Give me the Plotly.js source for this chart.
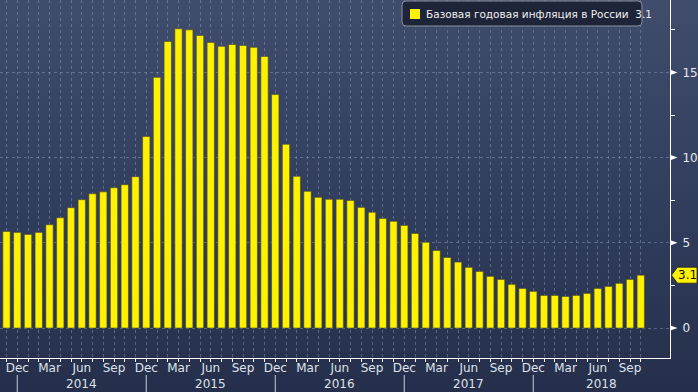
<!DOCTYPE html>
<html>
<head>
<meta charset="utf-8">
<script src="https://cdn.plot.ly/plotly-3.0.1.min.js"></script>
<style>
  html, body { margin: 0; padding: 0; }
  #chart { width: 698px; height: 392px; background: linear-gradient(to bottom, #404c6c 0%, #323e5e 50%, #252f4b 100%); }
</style>
</head>
<body>
<div id="chart"></div>
<script>
// ---- data ----
const months = [
  "2013-11","2013-12",
  "2014-01","2014-02","2014-03","2014-04","2014-05","2014-06","2014-07","2014-08","2014-09","2014-10","2014-11","2014-12",
  "2015-01","2015-02","2015-03","2015-04","2015-05","2015-06","2015-07","2015-08","2015-09","2015-10","2015-11","2015-12",
  "2016-01","2016-02","2016-03","2016-04","2016-05","2016-06","2016-07","2016-08","2016-09","2016-10","2016-11","2016-12",
  "2017-01","2017-02","2017-03","2017-04","2017-05","2017-06","2017-07","2017-08","2017-09","2017-10","2017-11","2017-12",
  "2018-01","2018-02","2018-03","2018-04","2018-05","2018-06","2018-07","2018-08","2018-09","2018-10"
];
const coreInflation = [
  5.67, 5.61,
  5.49, 5.61, 6.06, 6.47, 7.06, 7.53, 7.88, 7.99, 8.23, 8.41, 8.88, 11.24,
  14.71, 16.82, 17.56, 17.50, 17.17, 16.76, 16.53, 16.64, 16.58, 16.47, 15.94, 13.70,
  10.78, 8.90, 8.02, 7.67, 7.55, 7.55, 7.49, 7.08, 6.79, 6.43, 6.26, 6.02,
  5.55, 5.03, 4.55, 4.14, 3.87, 3.56, 3.32, 3.03, 2.85, 2.56, 2.32, 2.15,
  1.91, 1.91, 1.85, 1.91, 2.03, 2.32, 2.44, 2.62, 2.85, 3.10
];
const seriesName = "Базовая годовая инфляция в России";
const lastLabel = "3.1";
const monthNames = {"03": "Mar", "06": "Jun", "09": "Sep", "12": "Dec"};
const yTicks = [0, 5, 10, 15];
const yMinorTicks = [2.5, 7.5, 12.5, 17.5];
const years = ["2014", "2015", "2016", "2017", "2018"];

// ---- build ----
const xIdx = months.map((m, i) => i);
const tickText = months.map(m => monthNames[m.slice(5)] || "");
const xRange = [-0.605, 61.72];
const yRange = [-1.76, 19.25];
const W = 670, H = 358; // plot area in px

const bars = {
  type: "bar",
  x: xIdx,
  y: coreInflation,
  name: seriesName,
  width: 0.68,
  marker: { color: "#fff200", line: { color: "#4a4a22", width: 0.6 } },
  hoverinfo: "y",
  showlegend: false
};

const shapes = [];
const annotations = [];

// year separators and year labels
const decIdx = months.map((m, i) => m.endsWith("-12") ? i : -1).filter(i => i >= 0);
decIdx.forEach(i => {
  shapes.push({ type: "line", xref: "x", yref: "paper", x0: i, x1: i,
    y0: -(375 - H) / H, y1: -(392 - H) / H, line: { color: "#c8ccd6", width: 1 } });
});
years.forEach(y => {
  const start = months.indexOf((+y - 1) + "-12");
  let end = months.indexOf(y + "-12");
  if (end < 0) end = xRange[1];
  annotations.push({ xref: "x", yref: "paper", x: (start + end) / 2, y: -(384 - H) / H,
    text: y, showarrow: false, xanchor: "center", yanchor: "middle",
    font: { family: "DejaVu Sans", size: 12, color: "#dfe2e8" } });
});

// y major tick triangles
const px = v => 1 + v / W;
yTicks.forEach(v => {
  const h = 2.6 * (yRange[1] - yRange[0]) / H;
  shapes.push({ type: "path", xref: "paper", yref: "y",
    path: `M ${px(0.5)},${v + h} L ${px(7.5)},${v} L ${px(0.5)},${v - h} Z`,
    fillcolor: "#ffffff", line: { width: 0 } });
});

// last-value tag
const last = coreInflation[coreInflation.length - 1];
const hh = 8 * (yRange[1] - yRange[0]) / H;
shapes.push({ type: "path", xref: "paper", yref: "y",
  path: `M ${px(1.5)},${last} L ${px(7.5)},${last + hh} L ${px(27)},${last + hh} L ${px(27)},${last - hh} L ${px(7.5)},${last - hh} Z`,
  fillcolor: "#fff200", line: { color: "#222222", width: 0.8 } });
annotations.push({ xref: "paper", yref: "y", x: px(17.5), y: last, text: lastLabel,
  showarrow: false, xanchor: "center", yanchor: "middle",
  font: { family: "DejaVu Sans", size: 12, color: "#111111" } });

// legend box (rounded)
function rr(x0, y0, x1, y1, r) {
  const X = p => p / W, Y = p => 1 - p / H;
  return `M ${X(x0 + r)},${Y(y0)} L ${X(x1 - r)},${Y(y0)} Q ${X(x1)},${Y(y0)} ${X(x1)},${Y(y0 + r)} ` +
         `L ${X(x1)},${Y(y1 - r)} Q ${X(x1)},${Y(y1)} ${X(x1 - r)},${Y(y1)} ` +
         `L ${X(x0 + r)},${Y(y1)} Q ${X(x0)},${Y(y1)} ${X(x0)},${Y(y1 - r)} ` +
         `L ${X(x0)},${Y(y0 + r)} Q ${X(x0)},${Y(y0)} ${X(x0 + r)},${Y(y0)} Z`;
}
shapes.push({ type: "path", xref: "paper", yref: "paper", path: rr(402, 1, 642, 26, 4),
  fillcolor: "#1f2539", line: { color: "#8a909e", width: 1 } });
shapes.push({ type: "rect", xref: "paper", yref: "paper",
  x0: 410 / W, x1: 420 / W, y0: 1 - 19 / H, y1: 1 - 9 / H,
  fillcolor: "#fff200", line: { width: 0 } });
annotations.push({ xref: "paper", yref: "paper", x: 424 / W, y: 1 - 14 / H,
  text: seriesName + "  " + lastLabel, showarrow: false, xanchor: "left", yanchor: "middle",
  font: { family: "DejaVu Sans", size: 10.5, color: "#f0f0f0" } });

const gridColor = "rgba(125,145,180,0.55)";
const layout = {
  width: 698, height: 392,
  margin: { l: 0, r: 28, t: 0, b: 34, pad: 0 },
  paper_bgcolor: "rgba(0,0,0,0)",
  plot_bgcolor: "rgba(0,0,0,0)",
  bargap: 0.3,
  xaxis: {
    type: "linear", range: xRange, fixedrange: true,
    tickmode: "array", tickvals: xIdx, ticktext: tickText,
    ticks: "outside", ticklen: 3, tickcolor: "#ffffff", tickwidth: 1,
    ticklabelstandoff: -4,
    showline: true, linecolor: "#ffffff", linewidth: 1,
    showgrid: true, gridcolor: gridColor, griddash: "dot", gridwidth: 1,
    zeroline: false,
    tickfont: { family: "DejaVu Sans", size: 12, color: "#dfe2e8" }
  },
  yaxis: {
    side: "right", range: yRange, fixedrange: true,
    tickmode: "array", tickvals: yTicks, ticktext: yTicks.map(String),
    ticks: "", ticklabelstandoff: 9,
    showline: true, linecolor: "#ffffff", linewidth: 1,
    showgrid: true, gridcolor: gridColor, griddash: "dot", gridwidth: 1,
    zeroline: false,
    minor: { tickmode: "array", tickvals: yMinorTicks, ticks: "outside", ticklen: 4, tickcolor: "#ffffff", showgrid: false },
    tickfont: { family: "DejaVu Sans", size: 12, color: "#e6e8ee" }
  },
  shapes: shapes,
  annotations: annotations,
  showlegend: false
};

Plotly.newPlot("chart", [bars], layout, { displayModeBar: false, staticPlot: true });
</script>
</body>
</html>
